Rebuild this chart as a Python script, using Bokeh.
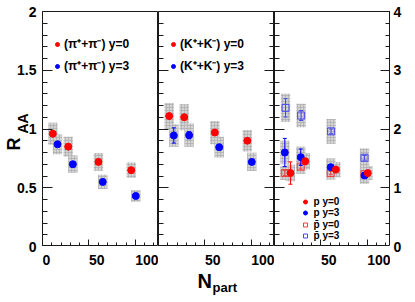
from bokeh.plotting import figure
from bokeh.layouts import row, column
from bokeh.models import (Range1d, LinearAxis, FixedTicker, CustomJSTickFormatter,
                          Legend, LegendItem, Label)
from bokeh.core.properties import value
from bokeh.embed import file_html
from bokeh.resources import INLINE

# ---------------- data ----------------
# (pi+ + pi-) R_AA
pi_y0_npart = [11.1, 27.7, 60.3, 95.6]
pi_y0_raa = [0.96, 0.85, 0.72, 0.65]
pi_y0_err = [0.015, 0.015, 0.015, 0.015]
pi_y0_sys = [0.094, 0.085, 0.075, 0.065]
pi_y3_npart = [16.2, 32.7, 64.9, 100.5]
pi_y3_raa = [0.87, 0.70, 0.55, 0.43]
pi_y3_err = [0.02, 0.02, 0.015, 0.015]
pi_y3_sys = [0.084, 0.074, 0.061, 0.05]

# (K+ + K-) R_AA
k_y0_npart = [11.5, 27.7, 60.7, 95.7]
k_y0_raa = [1.11, 1.10, 0.97, 0.90]
k_y0_err = [0.02, 0.02, 0.02, 0.02]
k_y0_sys = [0.111, 0.111, 0.099, 0.092]
k_y3_npart = [16.5, 33.0, 65.4, 100.5]
k_y3_raa = [0.945, 0.947, 0.845, 0.72]
k_y3_err = [0.065, 0.03, 0.02, 0.02]
k_y3_sys = [0.096, 0.099, 0.088, 0.077]

# protons / antiprotons R_AA (right-hand scale 0-4)
p_y0_npart = [17.2, 33.1, 66.1, 100.5]
p_y0_raa = [1.25, 1.45, 1.31, 1.25]
p_y0_err = [0.19, 0.05, 0.03, 0.03]
p_y0_sys = [0.14, 0.14, 0.13, 0.12]
p_y3_npart = [11.1, 28.3, 60.6, 97.0]
p_y3_raa = [1.60, 1.52, 1.35, 1.21]
p_y3_err = [0.24, 0.14, 0.04, 0.03]
p_y3_sys = [0.20, 0.18, 0.15, 0.14]
pbar_y0_npart = [11.1, 28.3, 60.6, 97.0]
pbar_y0_raa = [1.25, 1.36, 1.25, 1.23]
pbar_y0_err = [0.04, 0.04, 0.03, 0.03]
pbar_y0_sys = [0.12, 0.12, 0.11, 0.10]
pbar_y3_npart = [11.9, 28.7, 61.0, 97.0]
pbar_y3_raa = [2.36, 2.23, 1.96, 1.51]
pbar_y3_err = [0.156, 0.085, 0.04, 0.04]
pbar_y3_sys = [0.24, 0.20, 0.21, 0.16]

# ticks and tick labels
x_major = [0, 50, 100]
x_minor = [10, 20, 30, 40, 60, 70, 80, 90, 110, 120]
x_label_ticks_first = [0, 50, 100]
x_labels_first = ["0", "50", "100"]
x_label_ticks_other = [50, 100]
x_labels_other = ["50", "100"]
y_major = [0, 0.5, 1, 1.5, 2]
y_minor = [0.1, 0.2, 0.3, 0.4, 0.6, 0.7, 0.8, 0.9, 1.1, 1.2, 1.3, 1.4, 1.6, 1.7, 1.8, 1.9]
y_labels = ["0", "0.5", "1", "1.5", "2"]
y4_major = [0, 1, 2, 3, 4]
y4_minor = [0.2, 0.4, 0.6, 0.8, 1.2, 1.4, 1.6, 1.8, 2.2, 2.4, 2.6, 2.8, 3.2, 3.4, 3.6, 3.8]
y4_labels = ["0", "1", "2", "3", "4"]

# axis titles: R_AA (y) and N_part (x)
y_title_main, y_title_sub = "R", "AA"
x_title_main, x_title_sub = "N", "part"

# ---------------- style / layout ----------------
FONT = "Liberation Sans"
INK = "#1a1a1a"
RED = "#ff0000"
BLUE = "#0000ff"
OPEN_RED = "#ee3c3c"
OPEN_BLUE = "#4848ee"
BOX_FILL = "#d4d4d4"
BOX_HATCH = "#a6a6a6"
BOX_W = 10
FRAME_W, FRAME_H = 116, 235
BORDER_TOP, BORDER_BOTTOM = 11, 50
FIG_H = BORDER_TOP + FRAME_H + BORDER_BOTTOM
LEFT_W, RIGHT_W = 42, 22
X_END = 125
Y_END, Y4_END = 2, 4
TICK_FONT = "14px"


def make_panel(x_range):
    p = figure(frame_width=FRAME_W, frame_height=FRAME_H,
               x_range=x_range, y_range=Range1d(0, Y_END),
               x_axis_type=None, y_axis_type=None, title=None,
               output_backend="svg", toolbar_location=None,
               min_border_left=0, min_border_right=0,
               min_border_top=BORDER_TOP, min_border_bottom=0)
    p.outline_line_color = INK
    p.outline_line_width = 1
    p.background_fill_color = "white"
    p.border_fill_color = "white"
    return p


def blank_fig(w, h, x_range, y_range):
    f = figure(frame_width=w, frame_height=h, x_range=x_range, y_range=y_range,
               x_axis_type=None, y_axis_type=None, title=None,
               output_backend="svg", toolbar_location=None,
               min_border_left=0, min_border_right=0, min_border_top=0, min_border_bottom=0)
    f.outline_line_color = None
    f.background_fill_color = "white"
    f.border_fill_color = "white"
    return f


def tick_axis(dim, major, minor, major_len, minor_len, rng="default"):
    ax = LinearAxis(x_range_name=rng) if dim == "x" else LinearAxis(y_range_name=rng)
    ax.ticker = FixedTicker(ticks=major, minor_ticks=minor)
    ax.major_tick_in = major_len
    ax.major_tick_out = 0
    ax.minor_tick_in = minor_len
    ax.minor_tick_out = 0
    ax.axis_line_color = INK
    ax.major_tick_line_color = INK
    ax.minor_tick_line_color = INK
    ax.formatter = CustomJSTickFormatter(code="return ''")
    ax.major_label_text_font_size = "0px"
    ax.major_label_standoff = 0
    return ax


def tick_text(f, xs, ys, texts, align):
    f.text(x=xs, y=ys, text=texts, text_font=value(FONT), text_font_style="bold",
           text_font_size=TICK_FONT, text_align=align, text_baseline="alphabetic",
           text_color="black")


def title_label(txt, x, y, size, angle=0):
    return Label(x=x, y=y, x_units="screen", y_units="screen", text=txt,
                 angle=angle, angle_units="deg", text_font=FONT, text_font_style="bold",
                 text_font_size=size, text_align="left", text_baseline="alphabetic",
                 text_color="black")


def draw_boxes(p, x, y, sys, yr="default"):
    p.rect(x=x, y=y, width=BOX_W, height=[2 * s for s in sys],
           fill_color=BOX_FILL, line_color=None,
           hatch_pattern="+", hatch_color=BOX_HATCH, hatch_scale=3, hatch_weight=0.6,
           y_range_name=yr)


def draw_points(p, x, y, err, color, marker, filled, yr="default"):
    lo = [a - e for a, e in zip(y, err)]
    hi = [a + e for a, e in zip(y, err)]
    p.segment(x0=x, y0=lo, x1=x, y1=hi, line_color=color, line_width=1, y_range_name=yr)
    p.scatter(x=x + x, y=lo + hi, marker="dash", size=4, line_color=color, line_width=1,
              y_range_name=yr)
    return p.scatter(x=x, y=y, marker=marker, size=7,
                     fill_color=color if filled else None, line_color=color,
                     line_width=1, y_range_name=yr)


def legend(items, loc, font_size="12px", gh=16, spacing=5, standoff=2):
    return Legend(items=items, location=loc, border_line_color=None,
                  background_fill_alpha=0, padding=0, margin=0, spacing=spacing,
                  glyph_width=10, glyph_height=gh, label_height=gh, label_standoff=standoff,
                  label_text_font=FONT, label_text_font_style="bold",
                  label_text_font_size=font_size, label_text_color="black")


# ---------------- three data panels ----------------
xr1, xr2, xr3 = Range1d(0, X_END), Range1d(0, X_END), Range1d(0, X_END)

# left: pions
p1 = make_panel(xr1)
p1.add_layout(tick_axis("y", y_major, y_minor, 10, 5), "left")
p1.add_layout(tick_axis("x", x_major, x_minor, 7, 4), "below")
draw_boxes(p1, pi_y0_npart, pi_y0_raa, pi_y0_sys)
draw_boxes(p1, pi_y3_npart, pi_y3_raa, pi_y3_sys)
r_pi0 = draw_points(p1, pi_y0_npart, pi_y0_raa, pi_y0_err, RED, "circle", True)
r_pi3 = draw_points(p1, pi_y3_npart, pi_y3_raa, pi_y3_err, BLUE, "circle", True)
p1.add_layout(legend([LegendItem(label=value("(π⁺+π⁻) y=0"), renderers=[r_pi0]),
                      LegendItem(label=value("(π⁺+π⁻) y=3"), renderers=[r_pi3])], (10, 172)))

# middle: kaons
p2 = make_panel(xr2)
p2.add_layout(tick_axis("y", y_major, y_minor, 10, 5), "left")
p2.add_layout(tick_axis("y", y_major, y_minor, 10, 5), "right")
p2.add_layout(tick_axis("x", x_major, x_minor, 7, 4), "below")
draw_boxes(p2, k_y0_npart, k_y0_raa, k_y0_sys)
draw_boxes(p2, k_y3_npart, k_y3_raa, k_y3_sys)
r_k0 = draw_points(p2, k_y0_npart, k_y0_raa, k_y0_err, RED, "circle", True)
r_k3 = draw_points(p2, k_y3_npart, k_y3_raa, k_y3_err, BLUE, "circle", True)
p2.add_layout(legend([LegendItem(label=value("(K⁺+K⁻) y=0"), renderers=[r_k0]),
                      LegendItem(label=value("(K⁺+K⁻) y=3"), renderers=[r_k3])], (10, 172)))

# right: protons and antiprotons (right-hand 0-4 scale)
p3 = make_panel(xr3)
p3.extra_y_ranges = {"r4": Range1d(0, Y4_END)}
p3.add_layout(tick_axis("y", y_major, y_minor, 10, 5), "left")
p3.add_layout(tick_axis("y", y4_major, y4_minor, 10, 5, rng="r4"), "right")
p3.add_layout(tick_axis("x", x_major, x_minor, 7, 4), "below")
draw_boxes(p3, pbar_y3_npart, pbar_y3_raa, pbar_y3_sys, "r4")
draw_boxes(p3, p_y3_npart, p_y3_raa, p_y3_sys, "r4")
draw_boxes(p3, pbar_y0_npart, pbar_y0_raa, pbar_y0_sys, "r4")
draw_boxes(p3, p_y0_npart, p_y0_raa, p_y0_sys, "r4")
r_pb3 = draw_points(p3, pbar_y3_npart, pbar_y3_raa, pbar_y3_err, OPEN_BLUE, "square", False, "r4")
r_pb0 = draw_points(p3, pbar_y0_npart, pbar_y0_raa, pbar_y0_err, OPEN_RED, "square", False, "r4")
r_p3 = draw_points(p3, p_y3_npart, p_y3_raa, p_y3_err, BLUE, "circle", True, "r4")
r_p0 = draw_points(p3, p_y0_npart, p_y0_raa, p_y0_err, RED, "circle", True, "r4")
right_items = [("p y=0", r_p0, 39.5), ("p y=3", r_p3, 28), ("p\u0304 y=0", r_pb0, 16.5),
               ("p\u0304 y=3", r_pb3, 5)]
for lab, rr, ly in right_items:
    p3.add_layout(legend([LegendItem(label=value(lab), renderers=[rr])], (25.5, ly),
                         font_size="10px", gh=11, spacing=0, standoff=4))

# ---------------- x tick labels and x title (strips under the panels) ----------------
X_LABEL_BASE = 37          # baseline height inside the strip (px from its bottom)
b1 = blank_fig(FRAME_W, BORDER_BOTTOM, xr1, Range1d(0, BORDER_BOTTOM))
tick_text(b1, x_label_ticks_first, [X_LABEL_BASE] * len(x_label_ticks_first), x_labels_first, "left")
b2 = blank_fig(FRAME_W, BORDER_BOTTOM, xr2, Range1d(0, BORDER_BOTTOM))
tick_text(b2, x_label_ticks_other, [X_LABEL_BASE] * len(x_label_ticks_other), x_labels_other, "left")
b2.add_layout(title_label(x_title_main, 39, 16, "20px"))
b2.add_layout(title_label(x_title_sub, 54, 9, "13px"))
b3 = blank_fig(FRAME_W, BORDER_BOTTOM, xr3, Range1d(0, BORDER_BOTTOM))
tick_text(b3, x_label_ticks_other, [X_LABEL_BASE] * len(x_label_ticks_other), x_labels_other, "left")

# ---------------- y tick labels and y title (strip left of the panels) ----------------
px_per_y = FRAME_H / Y_END
fl = blank_fig(LEFT_W, FIG_H, Range1d(0, LEFT_W),
               Range1d(-BORDER_BOTTOM / px_per_y, Y_END + BORDER_TOP / px_per_y))
tick_text(fl, [LEFT_W - 6] * len(y_major), y_major, y_labels, "right")
fl.add_layout(title_label(y_title_main, 13, FIG_H - 150, "18px", 90))
fl.add_layout(title_label(y_title_sub, 22, FIG_H - 133, "14px", 90))

# ---------------- right-hand scale labels ----------------
px_per_y4 = FRAME_H / Y4_END
fr = blank_fig(RIGHT_W, FIG_H, Range1d(0, RIGHT_W),
               Range1d(-BORDER_BOTTOM / px_per_y4, Y4_END + BORDER_TOP / px_per_y4))
tick_text(fr, [3] * len(y4_major), y4_major, y4_labels, "left")

layout = row(fl, column(p1, b1), column(p2, b2), column(p3, b3), fr)
open("out.html", "w").write(file_html(layout, INLINE))
